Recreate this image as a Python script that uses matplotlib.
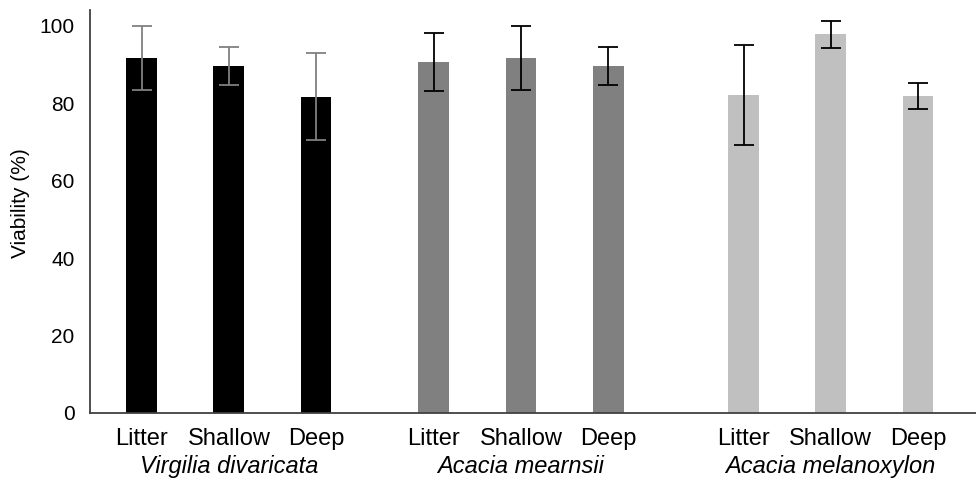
import matplotlib
matplotlib.use("Agg")
import matplotlib.pyplot as plt
import matplotlib.transforms as mtransforms
import numpy as np

SPECIES = ["Virgilia divaricata", "Acacia mearnsii", "Acacia melanoxylon"]
LAYERS = ["Litter", "Shallow", "Deep"]
VIABILITY = [
    [91.7, 89.6, 81.7],
    [90.6, 91.6, 89.6],
    [82.0, 97.8, 81.8],
]
ERRORS = [
    [8.2, 5.0, 11.3],
    [7.4, 8.2, 5.0],
    [12.9, 3.5, 3.3],
]

BAR_COLORS = ["#000000", "#808080", "#c0c0c0"]
ERR_COLORS = ["#808080", "#000000", "#000000"]
GROUP_START = [0.0, 3.32, 6.84]
STEP = 0.99
WIDTH = 0.35

plt.rcParams["font.family"] = ["Liberation Sans", "DejaVu Sans"]

fig = plt.figure(figsize=(9.76, 4.83), dpi=100)
ax = fig.add_axes([0.092, 0.145, 0.908, 0.834])

xticks, xlabels = [], []
trans = mtransforms.blended_transform_factory(ax.transData, ax.transAxes)
for g, sp in enumerate(SPECIES):
    xs = GROUP_START[g] + STEP * np.arange(len(LAYERS))
    ax.bar(xs, VIABILITY[g], width=WIDTH, color=BAR_COLORS[g], zorder=2)
    ax.errorbar(xs, VIABILITY[g], yerr=ERRORS[g], fmt="none",
                ecolor=ERR_COLORS[g], elinewidth=1.3, capsize=7, capthick=1.3, zorder=3)
    xticks.extend(xs)
    xlabels.extend(LAYERS)
    ax.text(xs.mean(), -0.104, sp, transform=trans, ha="center", va="top",
            fontsize=17, style="italic")

ax.set_xticks(xticks)
ax.set_xticklabels(xlabels, fontsize=17)
ax.set_xlim(-0.59, 9.48)
ax.set_ylim(0, 104)
ax.set_yticks(np.arange(0, 101, 20))
ax.tick_params(axis="y", labelsize=15, length=0, pad=11)
ax.tick_params(axis="x", length=0, pad=11)
ax.set_ylabel("Viability (%)", fontsize=15)
ax.yaxis.set_label_coords(-0.067, 0.52)

for s in ["top", "right"]:
    ax.spines[s].set_visible(False)
ax.spines["left"].set_color("#404040")
ax.spines["bottom"].set_color("#404040")
ax.spines["left"].set_linewidth(1.3)
ax.spines["bottom"].set_linewidth(1.3)

fig.savefig("out.png", dpi=100)
